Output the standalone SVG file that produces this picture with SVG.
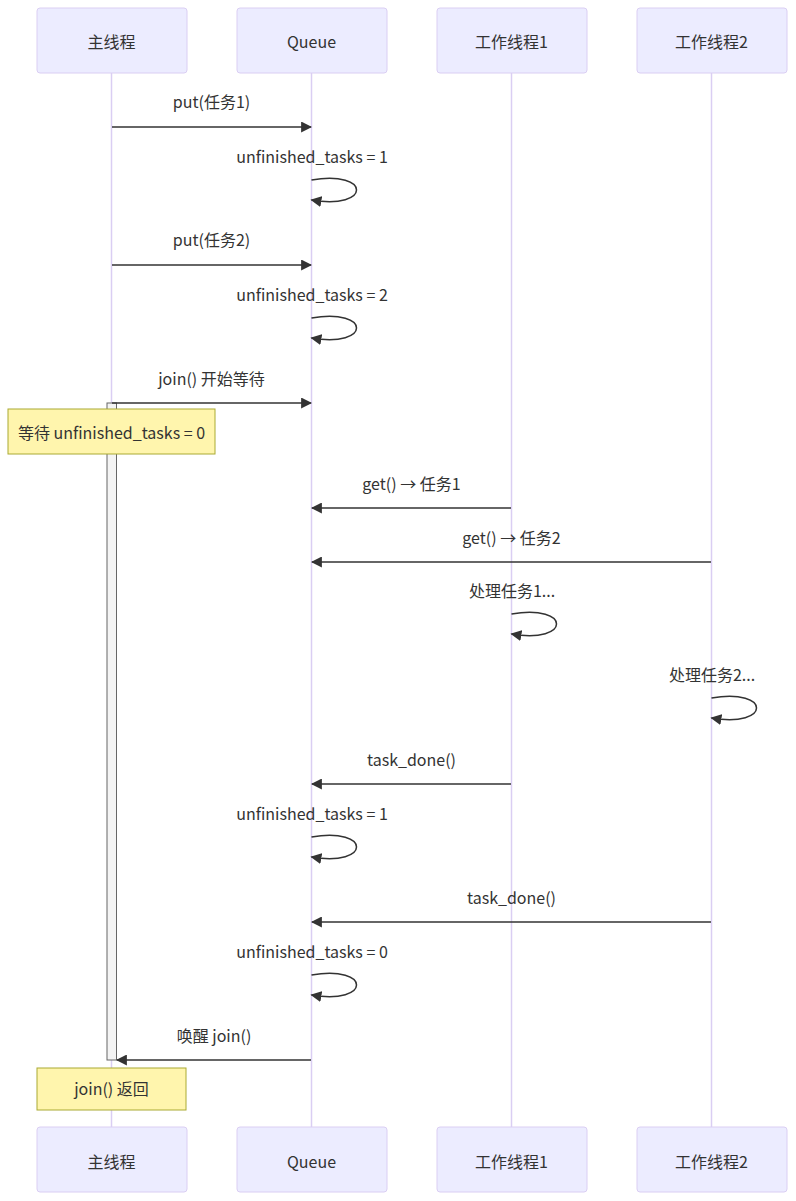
<svg xmlns="http://www.w3.org/2000/svg" width="796" height="1201" viewBox="0 0 796 1201">
<style>
text{font-family:"Noto Sans CJK SC","Noto Sans",sans-serif;font-size:16px;fill:#333;text-anchor:middle;dominant-baseline:central}
.actor{fill:#ECECFF;stroke:#dacef3;stroke-width:1}
.life{stroke:#dacef3;stroke-width:1.5}
.msg{stroke:#333;stroke-width:1.5;fill:none;marker-end:url(#arrow)}
.note{fill:#fff5ad;stroke:#aaaa33;stroke-width:1}
.act{fill:#f4f4f4;stroke:#666;stroke-width:1}
</style>
<defs>
<marker id="arrow" viewBox="0 0 10 10" refX="9" refY="5" markerUnits="userSpaceOnUse" markerWidth="11" markerHeight="11" orient="auto">
<path d="M0,0 L10,5 L0,10 z" fill="#333"/>
</marker>
</defs>
<rect width="796" height="1201" fill="#fff"/>
<g id="lifelines">
<line class="life" x1="111.5" y1="73" x2="111.5" y2="1127"/>
<line class="life" x1="311.5" y1="73" x2="311.5" y2="1127"/>
<line class="life" x1="511.5" y1="73" x2="511.5" y2="1127"/>
<line class="life" x1="711.5" y1="73" x2="711.5" y2="1127"/>
</g>
<g id="actor-main-top"><rect class="actor" x="37" y="8" width="150" height="65" rx="3"/><text x="111.5" y="41">主线程</text></g>
<g id="actor-queue-top"><rect class="actor" x="237" y="8" width="150" height="65" rx="3"/><text x="311.5" y="41">Queue</text></g>
<g id="actor-w1-top"><rect class="actor" x="437" y="8" width="150" height="65" rx="3"/><text x="511.5" y="41">工作线程1</text></g>
<g id="actor-w2-top"><rect class="actor" x="637" y="8" width="150" height="65" rx="3"/><text x="711.5" y="41">工作线程2</text></g>
<g id="actor-main-bottom"><rect class="actor" x="37" y="1127" width="150" height="65" rx="3"/><text x="111.5" y="1161">主线程</text></g>
<g id="actor-queue-bottom"><rect class="actor" x="237" y="1127" width="150" height="65" rx="3"/><text x="311.5" y="1161">Queue</text></g>
<g id="actor-w1-bottom"><rect class="actor" x="437" y="1127" width="150" height="65" rx="3"/><text x="511.5" y="1161">工作线程1</text></g>
<g id="actor-w2-bottom"><rect class="actor" x="637" y="1127" width="150" height="65" rx="3"/><text x="711.5" y="1161">工作线程2</text></g>
<g id="activation"><rect class="act" x="107" y="403" width="9.5" height="657"/></g>
<g id="connectors">
<line class="msg" x1="112" y1="127" x2="311" y2="127"/>
<path class="msg" d="M311.5,180 C371.5,170 371.5,210 311.5,200"/>
<line class="msg" x1="112" y1="265" x2="311" y2="265"/>
<path class="msg" d="M311.5,318 C371.5,308 371.5,348 311.5,338"/>
<line class="msg" x1="112" y1="403" x2="311" y2="403"/>
<line class="msg" x1="511" y1="508" x2="312" y2="508"/>
<line class="msg" x1="711" y1="562" x2="312" y2="562"/>
<path class="msg" d="M511.5,614 C571.5,604 571.5,644 511.5,634"/>
<path class="msg" d="M711.5,698 C771.5,688 771.5,728 711.5,718"/>
<line class="msg" x1="511" y1="784" x2="312" y2="784"/>
<path class="msg" d="M311.5,837 C371.5,827 371.5,867 311.5,857"/>
<line class="msg" x1="711" y1="922" x2="312" y2="922"/>
<path class="msg" d="M311.5,975 C371.5,965 371.5,1005 311.5,995"/>
<line class="msg" x1="311" y1="1060" x2="117" y2="1060"/>
</g>
<g id="labels">
<text x="211.5" y="101">put(任务1)</text>
<text x="312" y="156">unfinished_tasks = 1</text>
<text x="211.5" y="239">put(任务2)</text>
<text x="312" y="294">unfinished_tasks = 2</text>
<text x="211.5" y="378">join() 开始等待</text>
<text x="411.5" y="483">get() → 任务1</text>
<text x="511.5" y="537">get() → 任务2</text>
<text x="512" y="590">处理任务1...</text>
<text x="712" y="674">处理任务2...</text>
<text x="411.5" y="759">task_done()</text>
<text x="312" y="813">unfinished_tasks = 1</text>
<text x="511.5" y="897">task_done()</text>
<text x="312" y="951">unfinished_tasks = 0</text>
<text x="214" y="1035">唤醒 join()</text>
</g>
<g id="note-wait"><rect class="note" x="8" y="409" width="207" height="45"/><text x="111.5" y="432">等待 unfinished_tasks = 0</text></g>
<g id="note-return"><rect class="note" x="37" y="1068" width="149" height="42"/><text x="111.5" y="1088">join() 返回</text></g>
</svg>
